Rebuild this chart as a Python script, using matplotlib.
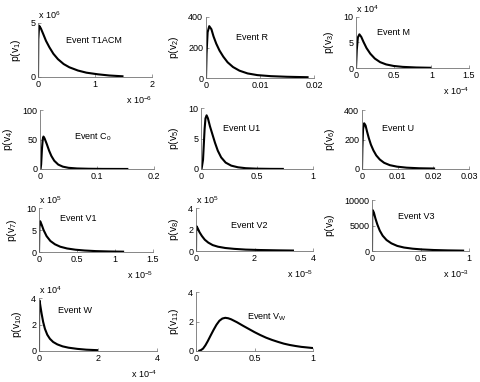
import matplotlib
matplotlib.use('Agg')
import matplotlib.pyplot as plt

plt.rcParams['font.family'] = ['Liberation Sans', 'DejaVu Sans']
plt.rcParams['mathtext.fontset'] = 'custom'
plt.rcParams['mathtext.rm'] = 'Liberation Sans'
plt.rcParams['mathtext.default'] = 'regular'
plt.rcParams['font.size'] = 6.5

# curves, in the units shown on each axis (after the "x 10^n" factor)
x1 = [0, 0.005, 0.02, 0.05, 0.09, 0.14, 0.2, 0.27, 0.35, 0.45, 0.55, 0.7, 0.85, 1.05, 1.25, 1.5]
y1 = [0, 3.5, 4.75, 4.5, 4.0, 3.35, 2.75, 2.15, 1.65, 1.2, 0.9, 0.6, 0.4, 0.25, 0.14, 0.06]
x2 = [0, 0.0001, 0.0003, 0.0006, 0.001, 0.0014, 0.0019, 0.0025, 0.0032, 0.004, 0.005, 0.0062,
      0.0077, 0.0095, 0.012, 0.015, 0.019]
y2 = [0, 160, 300, 340, 320, 272, 225, 180, 140, 103, 72, 48, 30, 19, 12, 8, 5]
x3 = [0, 0.01, 0.025, 0.045, 0.07, 0.1, 0.14, 0.19, 0.25, 0.32, 0.4, 0.5, 0.62, 0.8, 1.0]
y3 = [0, 3.5, 6.0, 6.6, 6.1, 5.1, 3.9, 2.8, 1.85, 1.15, 0.7, 0.4, 0.22, 0.1, 0.04]
x4 = [0.001, 0.002, 0.0035, 0.0048, 0.006, 0.008, 0.012, 0.016, 0.02, 0.025, 0.032, 0.04, 0.05,
      0.065, 0.085, 0.11, 0.155]
y4 = [0, 8, 35, 50, 55, 52, 42, 31, 22, 14, 7.5, 4, 2, 0.9, 0.4, 0.15, 0.03]
x5 = [0.005, 0.018, 0.025, 0.032, 0.04, 0.05, 0.062, 0.08, 0.1, 0.125, 0.15, 0.18, 0.22, 0.27,
      0.33, 0.4, 0.5, 0.62, 0.74]
y5 = [0, 1.5, 4.0, 6.5, 8.3, 8.8, 8.3, 7.0, 5.8, 4.3, 3.0, 1.9, 1.05, 0.55, 0.28, 0.13, 0.05, 0.02, 0.01]
x6 = [0, 0.0001, 0.0003, 0.0006, 0.001, 0.0014, 0.0019, 0.0025, 0.0032, 0.004, 0.005, 0.0062,
      0.0078, 0.0098, 0.0125, 0.016, 0.0205]
y6 = [0, 140, 270, 310, 295, 255, 210, 165, 126, 92, 64, 42, 26, 16, 9, 5, 3]
x7 = [0, 0.005, 0.015, 0.035, 0.06, 0.1, 0.15, 0.21, 0.28, 0.37, 0.48, 0.6, 0.75, 0.92, 1.12]
y7 = [0, 5.5, 7.0, 6.2, 5.0, 3.6, 2.5, 1.75, 1.2, 0.8, 0.52, 0.34, 0.2, 0.12, 0.07]
x8 = [0, 0.005, 0.02, 0.06, 0.12, 0.2, 0.3, 0.42, 0.57, 0.75, 1.0, 1.3, 1.7, 2.2, 2.8, 3.35]
y8 = [0, 1.8, 2.3, 2.1, 1.75, 1.4, 1.05, 0.78, 0.55, 0.4, 0.28, 0.2, 0.13, 0.09, 0.06, 0.04]
x9 = [0, 0.002, 0.008, 0.02, 0.035, 0.055, 0.08, 0.11, 0.15, 0.2, 0.26, 0.33, 0.42, 0.52, 0.64,
      0.78, 0.95]
y9 = [0, 6500, 8000, 7500, 6400, 5200, 4000, 3000, 2150, 1500, 1000, 680, 450, 300, 190, 120, 70]
x10 = [0, 0.005, 0.02, 0.05, 0.09, 0.14, 0.2, 0.28, 0.37, 0.48, 0.62, 0.8, 1.0, 1.3, 1.6, 2.0]
y10 = [0, 3.2, 3.8, 3.35, 2.8, 2.2, 1.68, 1.23, 0.92, 0.68, 0.5, 0.35, 0.25, 0.16, 0.1, 0.06]
x11 = [0.02, 0.04, 0.06, 0.08, 0.1, 0.125, 0.15, 0.175, 0.2, 0.225, 0.25, 0.275, 0.3, 0.35, 0.4,
       0.45, 0.5, 0.55, 0.6, 0.65, 0.7, 0.75, 0.8, 0.85, 0.9, 0.95, 1.0]
y11 = [0, 0.05, 0.16, 0.38, 0.66, 1.05, 1.43, 1.78, 2.05, 2.2, 2.25, 2.22, 2.15, 1.95, 1.72, 1.5,
       1.28, 1.08, 0.9, 0.75, 0.62, 0.5, 0.41, 0.34, 0.28, 0.24, 0.2]

events = ['Event T1ACM', 'Event R', 'Event M', 'Event C$_0$', 'Event U1', 'Event U',
          'Event V1', 'Event V2', 'Event V3', 'Event W', 'Event V$_W$']
xticks = [[0, 1, 2], [0, 0.01, 0.02], [0, 0.5, 1, 1.5], [0, 0.1, 0.2], [0, 0.5, 1],
          [0, 0.01, 0.02, 0.03], [0, 0.5, 1, 1.5], [0, 2, 4], [0, 0.5, 1], [0, 2, 4], [0, 0.5, 1]]
yticks = [[0, 5], [0, 200, 400], [0, 5, 10], [0, 50, 100], [0, 5, 10], [0, 200, 400],
          [0, 5, 10], [0, 2, 4], [0, 5000, 10000], [0, 2, 4], [0, 2, 4]]
xexp = [-6, None, -4, None, None, None, -5, -5, -3, -4, None]
yexp = [6, None, 4, None, None, None, 5, 5, None, 4, None]

curves = [(x1, y1), (x2, y2), (x3, y3), (x4, y4), (x5, y5), (x6, y6),
          (x7, y7), (x8, y8), (x9, y9), (x10, y10), (x11, y11)]

# axes boxes in pixels: left, right, top, bottom
boxes = [(38, 152, 23, 77), (206, 314, 17, 78), (356, 469, 17, 68),
         (40, 154, 110, 169), (201, 313, 108, 169), (362, 469, 110, 169),
         (39, 153, 208, 252), (196, 313, 208, 251), (372, 469, 200, 251),
         (39, 157, 298, 351), (196, 313, 292, 351)]
# event label spot in axes fraction
label_pos = [(0.25, 0.68), (0.28, 0.67), (0.19, 0.69), (0.30, 0.53), (0.20, 0.67), (0.19, 0.69),
             (0.18, 0.77), (0.30, 0.60), (0.27, 0.67), (0.16, 0.77), (0.44, 0.58)]

W, H = 480, 382
fig = plt.figure(figsize=(W / 100, H / 100), dpi=100)

for i, (xs, ys) in enumerate(curves):
    l, r, t, b = boxes[i]
    ax = fig.add_axes([l / W, 1 - b / H, (r - l) / W, (b - t) / H])
    ax.plot(xs, ys, color='black', lw=1.5, solid_capstyle='butt')
    ax.set_xlim(xticks[i][0], xticks[i][-1])
    ax.set_ylim(yticks[i][0], yticks[i][-1])
    ax.set_xticks(xticks[i])
    ax.set_yticks(yticks[i])
    ax.set_xticklabels([('%g' % v) for v in xticks[i]])
    ax.set_yticklabels([('%g' % v) for v in yticks[i]])
    for s in ['top', 'right']:
        ax.spines[s].set_visible(False)
    for s in ['left', 'bottom']:
        ax.spines[s].set_color('0.45')
        ax.spines[s].set_linewidth(0.6)
    ax.tick_params(direction='in', length=2, width=0.5, color='0.45', pad=2, labelsize=6.5)
    ax.set_ylabel('p(v$_{%d}$)' % (i + 1), fontsize=7.5, labelpad=5)
    ax.text(label_pos[i][0], label_pos[i][1], events[i], transform=ax.transAxes,
            ha='left', va='center', fontsize=6.5)
    if yexp[i] is not None:
        ax.annotate('x 10$^{%d}$' % yexp[i], xy=(0, 1), xycoords='axes fraction',
                    xytext=(0, 8), textcoords='offset pixels', ha='left', va='center',
                    fontsize=6.5, annotation_clip=False)
    if xexp[i] is not None:
        ax.annotate('x 10$^{%d}$' % xexp[i], xy=(1, 0), xycoords='axes fraction',
                    xytext=(0, -23), textcoords='offset pixels', ha='right', va='center',
                    fontsize=6.5, annotation_clip=False)

fig.savefig('out.png', dpi=100)
